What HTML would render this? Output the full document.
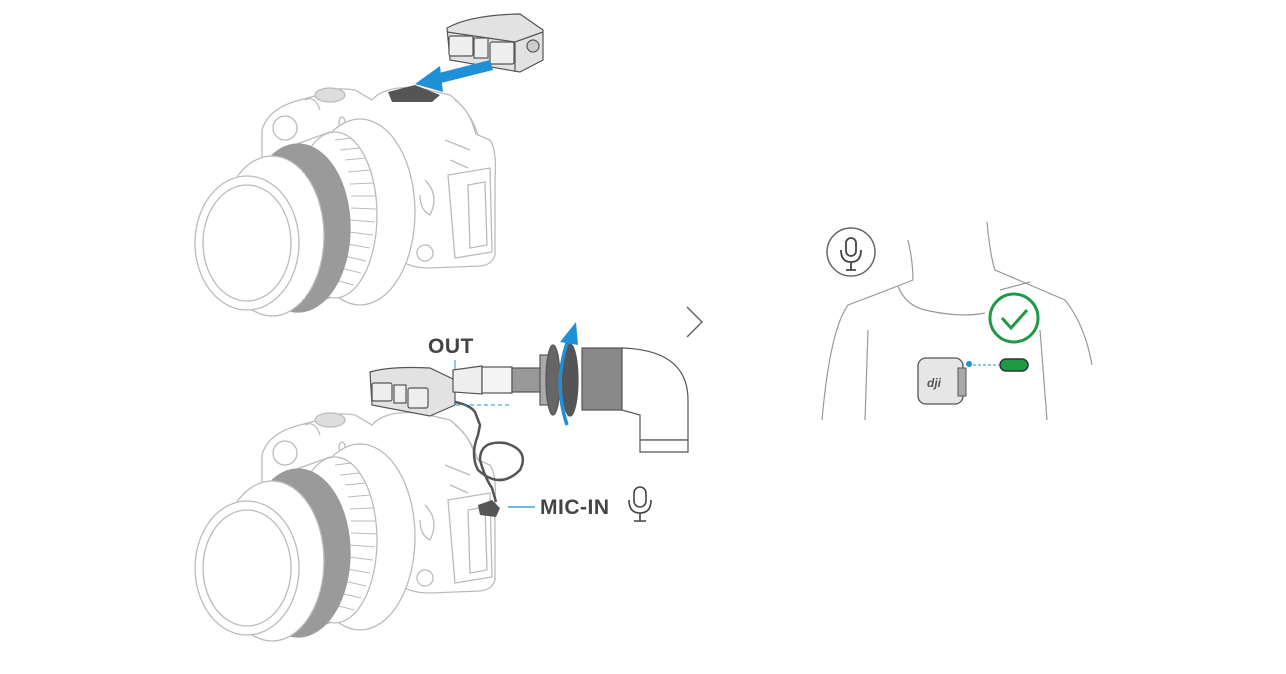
<!DOCTYPE html>
<html><head><meta charset="utf-8"><style>
html,body{margin:0;padding:0;background:#fff;}
svg{display:block}
text{font-family:"Liberation Sans",sans-serif;fill:#444;}
</style></head><body>
<svg width="1286" height="674" viewBox="0 0 1286 674" xmlns="http://www.w3.org/2000/svg">
<defs>
<g id="cam" stroke="#bbb" stroke-width="1.3">
  <!-- body -->
  <path d="M262 200 L262 130 Q268 108 300 100 L315 96 Q330 86 355 90 L372 100 Q385 85 420 88 L450 95 Q470 110 478 135 L490 140 Q497 150 495 180 L495 255 Q492 265 480 266 L430 268 Q405 268 395 255 L330 255 Z" fill="#fff"/>
  <circle cx="285" cy="128" r="12" fill="#fff"/>
  <ellipse cx="330" cy="95" rx="15" ry="7" fill="#ddd"/>
  <path d="M305 100 Q315 95 320 110" fill="none"/>
  <ellipse cx="342" cy="122" rx="3" ry="5" fill="#fff"/>
  <path d="M448 175 L490 168 L492 252 L455 258 Z" fill="#fff"/>
  <path d="M468 185 L485 182 L487 245 L470 248 Z" fill="#fff"/>
  <path d="M455 100 Q470 110 476 135 M445 140 L470 150 M450 160 L468 168" fill="none"/>
  <path d="M425 180 Q440 195 430 215 Q420 210 420 195" fill="#fff"/>
  <circle cx="425" cy="253" r="8" fill="#fff"/>
  <!-- big ring -->
  <ellipse cx="360" cy="212" rx="55" ry="93" fill="#fff"/>
  <!-- ribbed barrel -->
  <path d="M280 150 L330 132 L340 295 L285 310 Z" fill="#fff"/>
  <ellipse cx="335" cy="215" rx="42" ry="83" fill="#fff"/>
  <g stroke="#bbb" stroke-width="1">
   <path d="M335 140 L352 138 M340 150 L360 148 M345 160 L366 158 M348 172 L370 170 M350 184 L373 183 M351 196 L375 196 M351 208 L376 209 M350 220 L375 222 M349 232 L373 235 M347 244 L370 248 M344 256 L366 261 M340 268 L361 273 M335 280 L354 285"/>
  </g>
  <!-- gray band -->
  <ellipse cx="298" cy="228" rx="52" ry="84" fill="#9a9a9a" stroke="#999"/>
  <ellipse cx="272" cy="236" rx="52" ry="80" fill="#fff"/>
  <!-- front lens -->
  <ellipse cx="247" cy="243" rx="52" ry="67" fill="#fff"/>
  <ellipse cx="247" cy="243" rx="44" ry="58" fill="#fff"/>
</g>
</defs>

<!-- top camera -->
<use href="#cam"/>
<!-- hot shoe top -->
<path d="M388 92 L415 85 L440 95 L432 102 L392 102 Z" fill="#555"/>
<!-- transmitter top -->
<g stroke="#555" stroke-width="1.2">
  <path d="M447 28 Q470 15 520 14 L543 30 L543 60 L520 72 L450 60 Z" fill="#e2e2e2"/>
  <path d="M447 32 L515 42 L543 32" fill="none"/>
  <path d="M515 42 L515 72" fill="none"/>
  <rect x="449" y="36" width="24" height="20" rx="2" fill="#eee"/>
  <rect x="474" y="38" width="14" height="20" fill="#eee"/>
  <rect x="490" y="42" width="24" height="22" rx="2" fill="#eee"/>
  <circle cx="533" cy="46" r="6" fill="#ccc"/>
</g>
<path d="M490 60 L435 74 L437 84 L493 70 Z" fill="#1f8fd6"/>
<path d="M415 84 L440 66 L443 92 Z" fill="#1f8fd6"/>

<!-- bottom camera -->
<use href="#cam" transform="translate(0,325)"/>
<!-- transmitter bottom -->
<g stroke="#555" stroke-width="1.2">
  <path d="M370 372 Q390 366 430 368 L455 380 L455 405 L430 416 L372 405 Z" fill="#e2e2e2"/>
  <rect x="372" y="383" width="20" height="18" rx="2" fill="#eee"/>
  <rect x="394" y="385" width="12" height="18" fill="#eee"/>
  <rect x="408" y="388" width="20" height="20" rx="2" fill="#eee"/>
</g>
<!-- cable -->
<path d="M455 402 Q470 405 475 412 L480 425 L478 435 Q470 455 478 470 Q500 490 520 470 Q530 450 505 443 Q480 440 480 460 Q485 478 492 488 L496 502" fill="none" stroke="#555" stroke-width="2.5"/>
<path d="M478 505 L492 500 L500 508 L496 517 L480 515 Z" fill="#555"/>
<line x1="508" y1="507" x2="535" y2="507" stroke="#1f8fd6" stroke-width="1.2"/>
<line x1="456" y1="405" x2="510" y2="405" stroke="#1f8fd6" stroke-width="1" stroke-dasharray="4 3"/>
<line x1="455" y1="360" x2="455" y2="385" stroke="#1f8fd6" stroke-width="1"/>
<text x="428" y="353" font-size="21" font-weight="bold" letter-spacing="0.5">OUT</text>
<text x="540" y="514" font-size="21" font-weight="bold" letter-spacing="0.5">MIC-IN</text>
<g fill="none" stroke="#444" stroke-width="1.6">
  <rect x="634" y="487" width="12" height="20" rx="6"/>
  <path d="M629 500 Q629 513 640 513 Q651 513 651 500 M640 513 L640 521 M634 521 L646 521"/>
</g>

<!-- plug -->
<g stroke="#555" stroke-width="1.2">
  <path d="M453 370 L482 366 L482 394 L453 392 Z" fill="#eee"/>
  <rect x="482" y="367" width="30" height="26" fill="#f4f4f4"/>
  <rect x="512" y="368" width="30" height="24" fill="#999"/>
  <rect x="540" y="355" width="18" height="50" fill="#aaa"/>
  <ellipse cx="553" cy="380" rx="7" ry="35" fill="#666"/>
  <ellipse cx="570" cy="380" rx="8" ry="36" fill="#555"/>
  <rect x="582" y="348" width="40" height="62" fill="#888"/>
  <path d="M622 348 Q688 350 688 400 L688 440 L640 440 L640 415 L622 410 Z" fill="#fff"/>
  <path d="M640 440 L688 440 L688 452 L640 452 Z" fill="#fff"/>
</g>
<path d="M567 425 Q552 380 570 335" fill="none" stroke="#1f8fd6" stroke-width="3.5"/>
<path d="M560 342 L576 322 L578 345 Z" fill="#1f8fd6"/>

<!-- chevron -->
<path d="M687 307 L702 322 L687 337" fill="none" stroke="#666" stroke-width="1.5"/>

<!-- person -->
<g fill="none" stroke="#999" stroke-width="1.2">
  <path d="M908 240 Q913 262 913 280 Q880 293 848 305 Q830 330 822 420"/>
  <path d="M987 222 Q990 255 995 270 Q1030 285 1065 300 Q1085 325 1092 365"/>
  <path d="M868 330 L865 420"/>
  <path d="M1040 330 L1047 420"/>
  <path d="M898 286 Q905 305 925 310 Q960 318 985 313"/>
  <path d="M1000 290 L1030 282"/>
</g>
<circle cx="851" cy="252" r="24" fill="#fff" stroke="#666" stroke-width="1.5"/>
<g fill="none" stroke="#444" stroke-width="1.8">
  <rect x="846" y="238" width="10" height="18" rx="5"/>
  <path d="M841 250 Q841 262 851 262 Q861 262 861 250 M851 262 L851 270 M846 270 L856 270"/>
</g>
<circle cx="1014" cy="318" r="24" fill="#fff" stroke="#1e9a45" stroke-width="3"/>
<path d="M1002 318 L1011 328 L1027 310" fill="none" stroke="#1e9a45" stroke-width="3"/>
<rect x="1000" y="359" width="28" height="12" rx="6" fill="#1e9a45" stroke="#333" stroke-width="1.5"/>
<line x1="968" y1="365" x2="1000" y2="365" stroke="#1f8fd6" stroke-width="1" stroke-dasharray="3 2"/>
<circle cx="969" cy="364" r="3" fill="#1f8fd6"/>
<rect x="918" y="358" width="45" height="46" rx="8" fill="#e6e6e6" stroke="#555" stroke-width="1.3"/>
<rect x="958" y="368" width="8" height="28" fill="#aaa" stroke="#555"/>
<text x="927" y="387" font-size="12" font-style="italic" font-weight="bold" style="fill:#555">dji</text>
</svg>
</body></html>
